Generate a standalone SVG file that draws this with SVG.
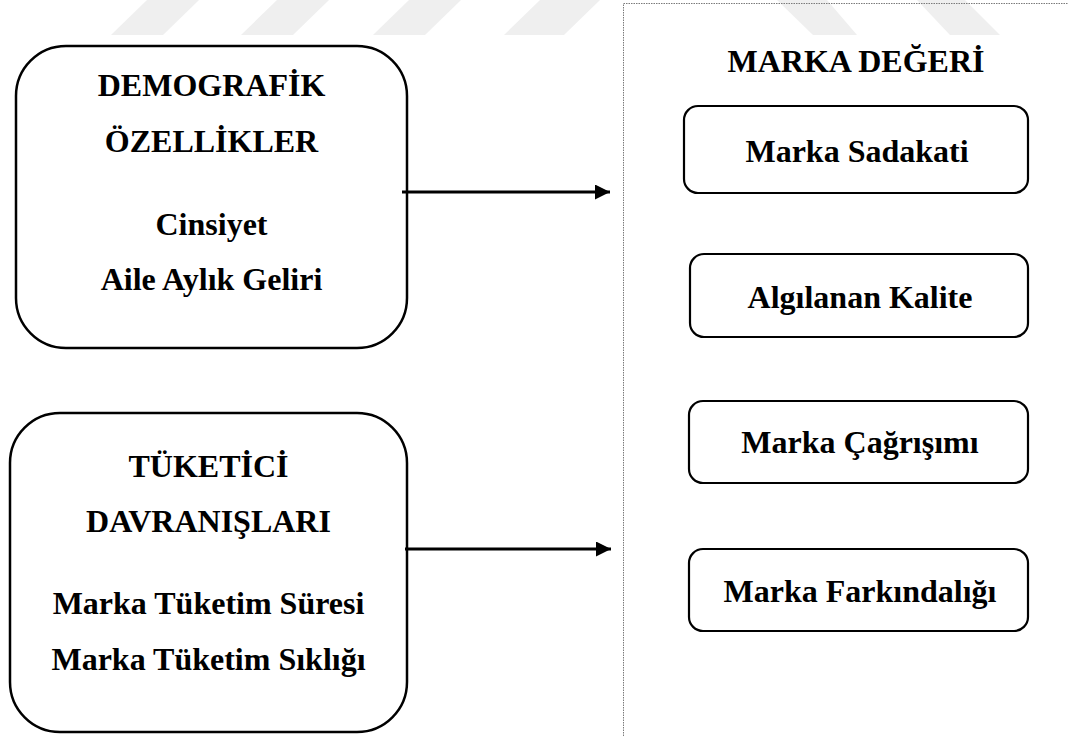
<svg xmlns="http://www.w3.org/2000/svg" width="1068" height="736" viewBox="0 0 1068 736">
<defs>
<style>
.wm{fill:#efefef;stroke:none}
.big{fill:#fff;stroke:#000;stroke-width:2.5}
.small{fill:#fff;stroke:#000;stroke-width:2.2}
.t{font-family:"Liberation Serif","Times New Roman",serif;font-weight:bold;font-size:32px;fill:#000;text-anchor:middle}
.frame{fill:none;stroke:#7a7a7a;stroke-width:1;stroke-dasharray:1.5 1}
.conn{stroke:#000;stroke-width:3;fill:none}
</style>
<marker id="ah" markerWidth="16" markerHeight="16" refX="15" refY="7.5" orient="auto" markerUnits="userSpaceOnUse">
<path d="M0,0 L15,7.5 L0,15 Z" fill="#000"/>
</marker>
</defs>
<rect width="1068" height="736" fill="#fff"/>
<g id="watermark">
<polygon class="wm" points="147,0 199,0 163,35 111,35"/>
<polygon class="wm" points="277,0 329,0 293,35 241,35"/>
<polygon class="wm" points="409,0 461,0 425,35 373,35"/>
<polygon class="wm" points="540,0 600,0 564,35 504,35"/>
<polygon class="wm" points="777,0 827,0 857,35 813,35"/>
<polygon class="wm" points="917,0 965,0 1000,35 950,35"/>
</g>
<rect class="frame" x="623.5" y="3.5" width="460" height="750"/>
<g id="demografik">
<rect class="big" x="16" y="46" width="391" height="302" rx="50" ry="50"/>
<text class="t" x="211.5" y="96">DEMOGRAFİK</text>
<text class="t" x="211.5" y="152">ÖZELLİKLER</text>
<text class="t" x="211.5" y="235">Cinsiyet</text>
<text class="t" x="211.5" y="290">Aile Aylık Geliri</text>
</g>
<g id="tuketici">
<rect class="big" x="10" y="413" width="397" height="319" rx="50" ry="50"/>
<text class="t" x="208.5" y="477">TÜKETİCİ</text>
<text class="t" x="208.5" y="532">DAVRANIŞLARI</text>
<text class="t" x="208.5" y="614">Marka Tüketim Süresi</text>
<text class="t" x="208.5" y="670">Marka Tüketim Sıklığı</text>
</g>
<g id="marka-degeri">
<text class="t" x="856" y="72">MARKA DEĞERİ</text>
</g>
<g id="sadakat">
<rect class="small" x="684" y="106" width="344" height="87" rx="14" ry="14"/>
<text class="t" x="857" y="162">Marka Sadakati</text>
</g>
<g id="kalite">
<rect class="small" x="690" y="254" width="338" height="83" rx="14" ry="14"/>
<text class="t" x="860" y="308">Algılanan Kalite</text>
</g>
<g id="cagrisim">
<rect class="small" x="689" y="401" width="339" height="82" rx="14" ry="14"/>
<text class="t" x="860" y="453">Marka Çağrışımı</text>
</g>
<g id="farkindalik">
<rect class="small" x="689" y="549" width="339" height="82" rx="14" ry="14"/>
<text class="t" x="860" y="602">Marka Farkındalığı</text>
</g>
<g id="connectors">
<line class="conn" x1="402" y1="192" x2="610" y2="192" marker-end="url(#ah)"/>
<line class="conn" x1="405" y1="549" x2="611" y2="549" marker-end="url(#ah)"/>
</g>
</svg>
